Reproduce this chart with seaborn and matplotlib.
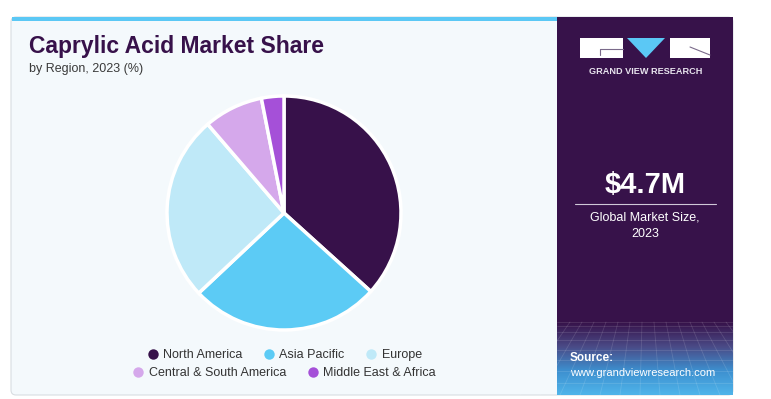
import seaborn as sns
import matplotlib.pyplot as plt
import numpy as np
from matplotlib.patches import FancyBboxPatch, Rectangle, Polygon
from matplotlib.lines import Line2D
from matplotlib.colors import LinearSegmentedColormap

sns.set_style("white")
plt.rcParams['font.family'] = ['Liberation Sans', 'DejaVu Sans']

# Data
regions = ["North America", "Asia Pacific", "Europe",
           "Central & South America", "Middle East & Africa"]
shares = [36.7, 26.3, 25.7, 8.2, 3.1]
colors = ["#37114a", "#5ccbf5", "#bfe9f8", "#d5a8eb", "#a550d8"]

W, H = 771, 399
fig = plt.figure(figsize=(W / 100, H / 100), dpi=100)
fig.patch.set_facecolor("white")

# Background axes in pixel coordinates
bg = fig.add_axes([0, 0, 1, 1])
bg.axis("off")

# card
bg.add_patch(FancyBboxPatch((11, 17), 722, 378, boxstyle="round,pad=0,rounding_size=5",
                            facecolor="#f4f9fc", edgecolor="#d8dde2", lw=0.8))
bg.add_patch(Rectangle((12, 17), 545, 4, facecolor="#5bc8f5", edgecolor="none"))
# right panel
bg.add_patch(Rectangle((557, 17), 176, 378, facecolor="#37124a", edgecolor="none"))
grad = np.linspace(0, 1, 100)[:, None]
cm = LinearSegmentedColormap.from_list("g", ["#37124a", "#4a4a86", "#3d8fcf", "#4fb4ea"])
bg.imshow(grad, extent=(557, 733, 395, 322), cmap=cm, aspect="auto", zorder=1)
# faint mesh
for x0 in np.linspace(520, 780, 14):
    bg.plot([645 + (x0 - 645) * 0.6, x0], [322, 395], color="white", alpha=0.13, lw=0.6, zorder=2)
for k in range(9):
    y = 322 + 73 * (k / 8) ** 1.4
    bg.plot([557, 733], [y, y], color="white", alpha=0.13, lw=0.6, zorder=2)
bg.set_xlim(0, W)
bg.set_ylim(H, 0)

# logo
bg.add_patch(Rectangle((580, 38), 43, 20, facecolor="white", edgecolor="none", zorder=3))
bg.add_patch(Polygon([(627, 38), (665, 38), (646, 58)], facecolor="#5bc8f5", edgecolor="none", zorder=3))
bg.add_patch(Rectangle((670, 38), 40, 20, facecolor="white", edgecolor="none", zorder=3))
bg.plot([600, 623], [49, 49], color="#7a6a8a", lw=0.8, zorder=4)
bg.plot([600, 600], [49, 55], color="#7a6a8a", lw=0.8, zorder=4)
bg.plot([690, 710], [47, 55], color="#7a6a8a", lw=0.8, zorder=4)
bg.text(645.5, 71, "GRAND VIEW RESEARCH", color="#e8e4ee", fontsize=6.6,
        fontweight="bold", ha="center", va="center", zorder=4)

bg.text(645, 185, "$4.7M", color="white", fontsize=21, fontweight="bold",
        ha="center", va="center", zorder=4)
bg.plot([575, 716], [204, 204], color="#cfc8d8", lw=0.8, zorder=4)
bg.text(645, 217, "Global Market Size,", color="white", fontsize=9,
        ha="center", va="center", zorder=4)
bg.text(645, 234, "2023", color="white", fontsize=9,
        ha="center", va="center", zorder=4)
bg.text(570, 358, "Source:", color="white", fontsize=8.5, fontweight="bold",
        ha="left", va="center", zorder=4)
bg.text(570, 373, "www.grandviewresearch.com", color="white", fontsize=8,
        ha="left", va="center", zorder=4)

# titles
bg.text(29, 47, "Caprylic Acid Market Share", color="#37114a", fontsize=16.5,
        fontweight="heavy", ha="left", va="center")
bg.text(29, 69, "by Region, 2023 (%)", color="#3a3a3a", fontsize=9,
        ha="left", va="center")

# pie
cx, cy, r = 284, 213, 117
pax = fig.add_axes([(cx - r) / W, (H - cy - r) / H, 2 * r / W, 2 * r / H])
pax.pie(shares, colors=colors, startangle=90, counterclock=False,
        wedgeprops=dict(edgecolor="white", linewidth=2.5))
pax.set_xlim(-1, 1)
pax.set_ylim(-1, 1)
pax.axis("off")

# legend in two centred rows
def handles(idx):
    return [Line2D([], [], marker="o", ls="", markersize=7.5, markerfacecolor=colors[i],
                   markeredgecolor="none", label=regions[i]) for i in idx]

leg1 = fig.legend(handles=handles([0, 1, 2]), ncol=3, loc="center",
                  bbox_to_anchor=(284 / W, 1 - 355 / H), frameon=False, fontsize=9,
                  handletextpad=0.35, columnspacing=1.6, handlelength=1.0)
leg2 = fig.legend(handles=handles([3, 4]), ncol=2, loc="center",
                  bbox_to_anchor=(284 / W, 1 - 373 / H), frameon=False, fontsize=9,
                  handletextpad=0.35, columnspacing=1.6, handlelength=1.0)
for leg in (leg1, leg2):
    for t in leg.get_texts():
        t.set_color("#333333")

fig.savefig("out.png", dpi=100)
plt.close(fig)
